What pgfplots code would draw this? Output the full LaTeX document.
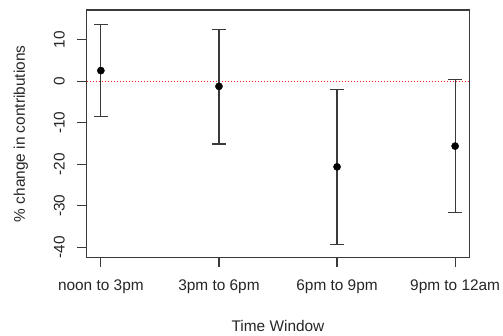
\documentclass[border=0pt]{standalone}
\usepackage{pgfplots}
\pgfplotsset{compat=1.18}
\usepackage{fontspec}
\setmainfont{Liberation Sans}
\definecolor{axgray}{HTML}{3A3A3A}
\definecolor{refred}{HTML}{FF2020}
\begin{document}
\begin{tikzpicture}[x=1pt,y=1pt]
\useasboundingbox (0,0) rectangle (503,335);
\begin{axis}[
  at={(86.7pt,77.3pt)}, anchor=south west,
  width=382.6pt, height=247.7pt, scale only axis,
  xmin=0.88, xmax=4.12, ymin=-42.5, ymax=17.2,
  xtick={1,2,3,4},
  xticklabels={noon to 3pm,3pm to 6pm,6pm to 9pm,9pm to 12am},
  ytick={-40,-30,-20,-10,0,10},
  /pgf/number format/assume math mode=true,
  tick align=outside, major tick length=9.5pt,
  tick style={axgray, line width=1.1pt},
  axis line style={axgray, line width=1.1pt},
  xtick pos=bottom, ytick pos=left,
  ticklabel style={font=\fontsize{15.4}{17}\selectfont, text=black!85},
  yticklabel style={rotate=90, anchor=south, yshift=9pt},
  xticklabel style={yshift=-9pt},
  label style={font=\fontsize{15.4}{17}\selectfont, text=black!85},
  xlabel={Time Window},
  ylabel={\% change in contributions},
  xlabel style={at={(axis description cs:0.5,-0.2745)}, anchor=center},
  ylabel style={at={(axis description cs:-0.1717,0.5)}, anchor=center},
  clip=false,
]
\addplot[draw=refred, line width=1.5pt, line cap=butt, dash pattern=on 1.5pt off 1.5pt, forget plot] coordinates {(0.88,0) (4.12,0)};
\addplot[
  only marks, mark=*, mark size=3.6pt, mark options={black},
  error bars/.cd, y dir=both, y explicit,
  error bar style={axgray, line width=1.1pt},
  error mark options={rotate=90, mark size=6.7pt, axgray, line width=1.1pt},
] table[x=x, y=y, y error plus=ep, y error minus=em] {
x y ep em
1 2.6 11.1 11.1
2 -1.2 13.7 13.9
3 -20.6 18.6 18.8
4 -15.6 16.0 16.0
};
\end{axis}
\end{tikzpicture}
\end{document}
